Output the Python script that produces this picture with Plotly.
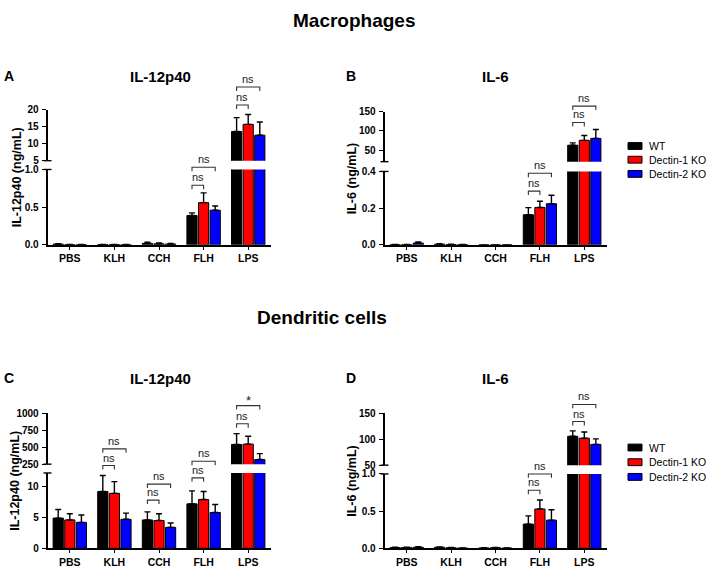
import plotly.graph_objects as go

W, H = 708, 571
FONT = "Arial, Liberation Sans, Helvetica, sans-serif"

categories = ["PBS", "KLH", "CCH", "FLH", "LPS"]
series_names = ["WT", "Dectin-1 KO", "Dectin-2 KO"]
series_colors = ["#000000", "#ff0000", "#0000ff"]

# Panel A - Macrophages IL-12p40 (ng/mL)
a_wt = [0.010, 0.004, 0.020, 0.39, 13.6]
a_wt_err = [0.005, 0.002, 0.015, 0.035, 4.1]
a_d1 = [0.003, 0.004, 0.015, 0.56, 15.7]
a_d1_err = [0.002, 0.003, 0.010, 0.13, 2.9]
a_d2 = [0.002, 0.002, 0.012, 0.46, 12.5]
a_d2_err = [0.002, 0.002, 0.008, 0.055, 3.9]

# Panel B - Macrophages IL-6 (ng/mL)
b_wt = [0.001, 0.004, 0.0, 0.164, 62.8]
b_wt_err = [0.001, 0.003, 0.0, 0.039, 6.0]
b_d1 = [0.001, 0.002, 0.0, 0.204, 75.5]
b_d1_err = [0.001, 0.001, 0.0, 0.034, 12.5]
b_d2 = [0.010, 0.001, 0.0, 0.224, 80.6]
b_d2_err = [0.006, 0.001, 0.0, 0.046, 23.0]

# Panel C - Dendritic cells IL-12p40 (ng/mL)
c_wt = [4.9, 9.2, 4.6, 7.2, 540]
c_wt_err = [1.4, 2.6, 1.3, 2.1, 160]
c_d1 = [4.6, 8.9, 4.5, 7.9, 545]
c_d1_err = [1.0, 1.9, 1.1, 1.3, 117]
c_d2 = [4.2, 4.7, 3.4, 5.8, 318]
c_d2_err = [1.2, 1.0, 0.7, 1.3, 87]

# Panel D - Dendritic cells IL-6 (ng/mL)
d_wt = [0.010, 0.015, 0.005, 0.326, 105.6]
d_wt_err = [0.005, 0.005, 0.003, 0.11, 10.5]
d_d1 = [0.012, 0.008, 0.008, 0.529, 101.9]
d_d1_err = [0.005, 0.004, 0.003, 0.12, 12.0]
d_d2 = [0.015, 0.003, 0.004, 0.379, 90.0]
d_d2_err = [0.006, 0.002, 0.002, 0.14, 10.6]

# significance brackets: (category, last series index, height, axis segment, label)
a_brackets = [(3, 1, 0.79, "lo", "ns"), (3, 2, 1.03, "lo", "ns"),
              (4, 1, 21.4, "up", "ns"), (4, 2, 26.7, "up", "ns")]
b_brackets = [(3, 1, 0.293, "lo", "ns"), (3, 2, 0.39, "lo", "ns"),
              (4, 1, 122, "up", "ns"), (4, 2, 164.5, "up", "ns")]
c_brackets = [(1, 1, 13.4, "lo", "ns"), (1, 2, 16.1, "lo", "ns"),
              (2, 1, 7.8, "lo", "ns"), (2, 2, 10.4, "lo", "ns"),
              (3, 1, 11.4, "lo", "ns"), (3, 2, 14.1, "lo", "ns"),
              (4, 1, 845, "up", "ns"), (4, 2, 1112, "up", "*")]
d_brackets = [(3, 1, 0.78, "lo", "ns"), (3, 2, 1.0, "lo", "ns"),
              (4, 1, 134, "up", "ns"), (4, 2, 167, "up", "ns")]


def px_x(p):
    return p / W


def px_y(p):
    return 1 - p / H


panels = [
    dict(letter="A", title="IL-12p40", ylabel="IL-12p40 (ng/mL)",
         vals=[a_wt, a_d1, a_d2], errs=[a_wt_err, a_d1_err, a_d2_err],
         up_rng=[5, 20], up_ticks=[5, 10, 15, 20], up_text=["5", "10", "15", "20"],
         lo_rng=[0, 1], lo_ticks=[0, 0.5, 1.0], lo_text=["0.0", "0.5", "1.0"],
         xpx=(47.5, 270.5), up_px=(106, 158), lo_px=(167, 244),
         brackets=a_brackets, title_y=72, label_x=17),
    dict(letter="B", title="IL-6", ylabel="IL-6 (ng/mL)",
         vals=[b_wt, b_d1, b_d2], errs=[b_wt_err, b_d1_err, b_d2_err],
         up_rng=[20, 150], up_ticks=[50, 100, 150], up_text=["50", "100", "150"],
         lo_rng=[0, 0.4], lo_ticks=[0, 0.2, 0.4], lo_text=["0.0", "0.2", "0.4"],
         xpx=(384.5, 606.5), up_px=(108, 159), lo_px=(169, 244),
         brackets=b_brackets, title_y=72, label_x=352),
    dict(letter="C", title="IL-12p40", ylabel="IL-12p40 (ng/mL)",
         vals=[c_wt, c_d1, c_d2], errs=[c_wt_err, c_d1_err, c_d2_err],
         up_rng=[250, 1000], up_ticks=[250, 500, 750, 1000], up_text=["250", "500", "750", "1000"],
         lo_rng=[0, 12.2], lo_ticks=[0, 5, 10], lo_text=["0", "5", "10"],
         xpx=(47.5, 270.5), up_px=(416, 468), lo_px=(477, 554),
         brackets=c_brackets, title_y=380, label_x=15),
    dict(letter="D", title="IL-6", ylabel="IL-6 (ng/mL)",
         vals=[d_wt, d_d1, d_d2], errs=[d_wt_err, d_d1_err, d_d2_err],
         up_rng=[50, 150], up_ticks=[50, 100, 150], up_text=["50", "100", "150"],
         lo_rng=[0, 1], lo_ticks=[0, 0.5, 1.0], lo_text=["0.0", "0.5", "1.0"],
         xpx=(384.5, 606.5), up_px=(416, 469), lo_px=(478, 554),
         brackets=d_brackets, title_y=380, label_x=352),
]

BARGAP = 0.22
BARGROUPGAP = 0.12
slot = (1 - BARGAP) / 3

fig = go.Figure()
shapes = []
annotations = []
layout_axes = {}

tickfont = dict(family=FONT, size=10, color="black", weight="bold")


def text_ann(x, y, text, size, **kw):
    d = dict(x=x, y=y, xref="paper", yref="paper", text=text, showarrow=False,
             xanchor="center", yanchor="middle",
             font=dict(family=FONT, size=size, color="black"))
    d.update(kw)
    return d


for i, p in enumerate(panels):
    xn = i + 1
    xid = "x" if xn == 1 else f"x{xn}"
    up_n = 2 * i + 1
    lo_n = 2 * i + 2
    yup = "y" if up_n == 1 else f"y{up_n}"
    ylo = f"y{lo_n}"

    xdom = [px_x(p["xpx"][0]), px_x(p["xpx"][1])]
    up_dom = [px_y(p["up_px"][1]), px_y(p["up_px"][0])]
    lo_dom = [px_y(p["lo_px"][1]), px_y(p["lo_px"][0])]

    for s in range(3):
        for yid in (yup, ylo):
            fig.add_trace(go.Bar(
                x=categories, y=p["vals"][s], xaxis=xid, yaxis=yid,
                marker=dict(color=series_colors[s], line=dict(color="black", width=1)),
                error_y=dict(type="data", array=p["errs"][s], arrayminus=[0] * 5,
                             symmetric=False, color="black", thickness=1.4, width=3),
                name=series_names[s], showlegend=False, hoverinfo="skip",
                offsetgroup=str(s),
            ))

    xkey = "xaxis" if xn == 1 else f"xaxis{xn}"
    layout_axes[xkey] = dict(
        domain=xdom, anchor=ylo, type="category", range=[-0.5, 4.5],
        showline=True, linewidth=1.6, linecolor="black", ticks="outside",
        ticklen=3, tickwidth=1.4, tickcolor="black", tickfont=dict(tickfont, size=10.5),
        showgrid=False, zeroline=False, fixedrange=True,
    )
    ukey = "yaxis" if up_n == 1 else f"yaxis{up_n}"
    layout_axes[ukey] = dict(
        domain=up_dom, anchor=xid, range=p["up_rng"], tickmode="array",
        tickvals=p["up_ticks"], ticktext=p["up_text"],
        showline=True, linewidth=1.6, linecolor="black", ticks="outside",
        ticklen=4, tickwidth=1.4, tickcolor="black", tickfont=tickfont,
        showgrid=False, zeroline=False, fixedrange=True, ticklabelstandoff=1,
    )
    layout_axes[f"yaxis{lo_n}"] = dict(
        domain=lo_dom, anchor=xid, range=p["lo_rng"], tickmode="array",
        tickvals=p["lo_ticks"], ticktext=p["lo_text"],
        showline=True, linewidth=1.6, linecolor="black", ticks="outside",
        ticklen=4, tickwidth=1.4, tickcolor="black", tickfont=tickfont,
        showgrid=False, zeroline=False, fixedrange=True, ticklabelstandoff=1,
    )

    # axis break caps
    ax_x = xdom[0]
    for yy in (up_dom[0], lo_dom[1]):
        shapes.append(dict(type="line", xref="paper", yref="paper",
                           x0=ax_x - 4 / W, x1=ax_x + 4 / W, y0=yy, y1=yy,
                           line=dict(color="black", width=1.4)))

    # brackets
    def to_paper(v, seg):
        rng = p["up_rng"] if seg == "up" else p["lo_rng"]
        dom = up_dom if seg == "up" else lo_dom
        return dom[0] + (v - rng[0]) / (rng[1] - rng[0]) * (dom[1] - dom[0])

    for (cat, last, h, seg, lab) in p["brackets"]:
        x0 = cat - slot
        x1 = cat - slot + last * slot
        yv = to_paper(h, seg)
        yd = yv - 4 / H
        shapes.append(dict(type="path", xref=xid, yref="paper",
                           path=f"M {x0},{yd} L {x0},{yv} L {x1},{yv} L {x1},{yd}",
                           line=dict(color="#333333", width=1.1)))
        annotations.append(dict(x=(x0 + x1) / 2, y=yv, xref=xid, yref="paper",
                                text=lab, showarrow=False, xanchor="center",
                                yanchor="bottom",
                                yshift=0 if lab == "ns" else -4,
                                font=dict(family=FONT, size=11 if lab == "ns" else 13,
                                          color="#222222")))

    # titles & labels
    annotations.append(text_ann(px_x(9 if i % 2 == 0 else 351), px_y(p["title_y"]),
                                f"<b>{p['letter']}</b>", 14))
    annotations.append(text_ann(px_x(160 if i % 2 == 0 else 495), px_y(p["title_y"]),
                                f"<b>{p['title']}</b>", 15))
    annotations.append(text_ann(px_x(p["label_x"]), (up_dom[1] + lo_dom[0]) / 2,
                                f"<b>{p['ylabel']}</b>", 12.5, textangle=-90))

# Section titles
annotations.append(text_ann(px_x(354), px_y(15), "<b>Macrophages</b>", 19))
annotations.append(text_ann(px_x(322), px_y(318), "<b>Dendritic cells</b>", 19))

# Legends (one per row of panels)
for rows in ([143, 157, 171.5], [451, 466, 481]):
    for s in range(3):
        yc = px_y(rows[s])
        shapes.append(dict(type="rect", xref="paper", yref="paper",
                           x0=px_x(628), x1=px_x(642), y0=yc - 3.5 / H, y1=yc + 3.5 / H,
                           fillcolor=series_colors[s], line=dict(color="black", width=1)))
        annotations.append(text_ann(px_x(647), yc, series_names[s], 10.5, xanchor="left"))

fig.update_layout(
    width=W, height=H, autosize=False,
    margin=dict(l=0, r=0, t=0, b=0),
    paper_bgcolor="white", plot_bgcolor="white",
    barmode="group", bargap=BARGAP, bargroupgap=BARGROUPGAP,
    showlegend=False, shapes=shapes, annotations=annotations,
    **layout_axes,
)

fig.write_html("out.html", config={"displayModeBar": False},
               post_script="document.body.style.margin='0';document.body.style.overflow='hidden';")
